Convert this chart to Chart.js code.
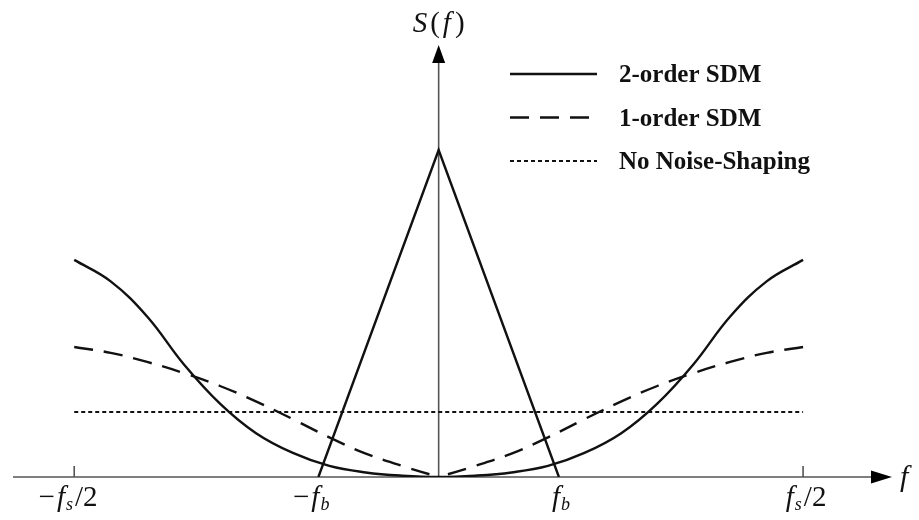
<!DOCTYPE html>
<html>
<head>
<meta charset="utf-8">
<title>S(f)</title>
<script src="https://cdn.jsdelivr.net/npm/chart.js@4.4.1/dist/chart.umd.min.js"></script>
<style>
  html, body { margin: 0; padding: 0; background: #fff; }
  canvas { display: block; }
</style>
</head>
<body>
<canvas id="noise-spectrum" width="919" height="520"></canvas>
<script>
// frequency axis in units of fs, spectrum in units of the flat quantisation noise level
const freqs = [-0.5, -0.45, -0.4, -0.35, -0.3, -0.25, -0.2, -0.15, -0.1, -0.05, 0,
               0.05, 0.1, 0.15, 0.2, 0.25, 0.3, 0.35, 0.4, 0.45, 0.5];
const secondOrder = [3.34, 3.01, 2.47, 1.74, 1.13, 0.67, 0.37, 0.17, 0.07, 0.02, 0,
                     0.02, 0.07, 0.17, 0.37, 0.67, 1.13, 1.74, 2.47, 3.01, 3.34];
const firstOrder = [2.00, 1.91, 1.77, 1.60, 1.40, 1.16, 0.89, 0.61, 0.36, 0.17, 0,
                    0.17, 0.36, 0.61, 0.89, 1.16, 1.40, 1.60, 1.77, 1.91, 2.00];
const flatFreqs = [-0.5, 0.5];
const flatLevel = [1, 1];
const bandFreqs = [-0.165, 0, 0.165];
const signalLevel = [0, 5.03, 0];

const seriesNames = ['2-order SDM', '1-order SDM', 'No Noise-Shaping'];
const tickValues = [-0.5, -0.165, 0.165, 0.5];
// [sign, symbol, subscript, tail]
const tickLabels = [['−', 'f', 's', '/2'], ['−', 'f', 'b', ''], ['', 'f', 'b', ''], ['', 'f', 's', '/2']];

const SERIF = '"Liberation Serif", "Times New Roman", serif';
const INK = '#111';

const toPoints = (xs, ys) => xs.map((x, i) => ({ x, y: ys[i] }));
const mid = freqs.indexOf(0);

const lineBase = {
  borderColor: INK,
  borderWidth: 2.4,
  pointRadius: 0,
  fill: false
};

const dataSpectrum = {
  datasets: [
    { ...lineBase, label: seriesNames[0], data: toPoints(freqs, secondOrder), tension: 0.4 },
    // first-order curve has a corner at f = 0: each half runs from the band edge inwards
    { ...lineBase, label: seriesNames[1], data: toPoints(freqs.slice(0, mid + 1), firstOrder.slice(0, mid + 1)),
      tension: 0.4, borderDash: [19, 11] },
    { ...lineBase, label: seriesNames[1], data: toPoints(freqs.slice(mid), firstOrder.slice(mid)).reverse(),
      tension: 0.4, borderDash: [19, 11] },
    { ...lineBase, label: seriesNames[2], data: toPoints(flatFreqs, flatLevel), borderDash: [4, 3], borderWidth: 2.2 },
    { ...lineBase, label: '', data: toPoints(bandFreqs, signalLevel), tension: 0 }
  ]
};

// axes with arrow heads, tick marks at ±fs/2
const axisArrows = {
  id: 'axisArrows',
  beforeDatasetsDraw(chart) {
    const { ctx, chartArea: area, scales: { x, y } } = chart;
    const x0 = x.getPixelForValue(0);
    const y0 = y.getPixelForValue(0);
    ctx.save();
    ctx.strokeStyle = '#555';
    ctx.lineWidth = 1.6;
    ctx.beginPath();
    ctx.moveTo(area.left, y0);
    ctx.lineTo(area.right - 14, y0);
    ctx.moveTo(x0, y0);
    ctx.lineTo(x0, area.top + 12);
    [tickValues[0], tickValues[3]].forEach(v => {
      const px = x.getPixelForValue(v);
      ctx.moveTo(px, y0);
      ctx.lineTo(px, y0 - 11);
    });
    ctx.stroke();

    ctx.fillStyle = '#000';
    ctx.beginPath();
    ctx.moveTo(area.right, y0);
    ctx.lineTo(area.right - 21, y0 - 6.5);
    ctx.lineTo(area.right - 21, y0 + 6.5);
    ctx.closePath();
    ctx.fill();
    ctx.beginPath();
    ctx.moveTo(x0, area.top);
    ctx.lineTo(x0 - 6.5, area.top + 18);
    ctx.lineTo(x0 + 6.5, area.top + 18);
    ctx.closePath();
    ctx.fill();
    ctx.restore();
  }
};

function drawPieces(ctx, startX, baseY, pieces) {
  let cx = startX;
  pieces.forEach(p => {
    ctx.font = p.font;
    ctx.fillText(p.text, cx, baseY + (p.dy || 0));
    cx += ctx.measureText(p.text).width + (p.gap || 0);
  });
}

function piecesWidth(ctx, pieces) {
  return pieces.reduce((w, p) => {
    ctx.font = p.font;
    return w + ctx.measureText(p.text).width + (p.gap || 0);
  }, 0);
}

const axisText = {
  id: 'axisText',
  afterDraw(chart) {
    const { ctx, chartArea: area, scales: { x, y } } = chart;
    const y0 = y.getPixelForValue(0);
    const italic = `italic 29px ${SERIF}`;
    const upright = `29px ${SERIF}`;
    const sub = `italic 18px ${SERIF}`;
    ctx.save();
    ctx.fillStyle = INK;
    ctx.textAlign = 'left';
    ctx.textBaseline = 'alphabetic';

    tickValues.forEach((v, i) => {
      const [sign, sym, subscript, tail] = tickLabels[i];
      const core = [
        { text: sym, font: italic, gap: 1 },
        { text: subscript, font: sub, dy: 4, gap: 2 },
        { text: tail, font: upright }
      ];
      const coreW = piecesWidth(ctx, core);
      const start = x.getPixelForValue(v) + 3 - coreW / 2;
      drawPieces(ctx, start, y0 + 29, core);
      if (sign) {
        ctx.font = upright;
        const sw = ctx.measureText(sign).width;
        ctx.fillText(sign, start - sw - 2, y0 + 29);
      }
    });

    // f at the end of the horizontal axis
    ctx.font = `italic 30px ${SERIF}`;
    ctx.fillText('f', area.right + 8, y0 + 9);

    // S(f) above the vertical axis
    const title = [
      { text: 'S', font: `italic 29px ${SERIF}`, gap: 3 },
      { text: '(', font: `29px ${SERIF}`, gap: 3 },
      { text: 'f', font: `italic 29px ${SERIF}`, gap: 4 },
      { text: ')', font: `29px ${SERIF}` }
    ];
    const tw = piecesWidth(ctx, title);
    drawPieces(ctx, x.getPixelForValue(0) - tw / 2, area.top - 13, title);
    ctx.restore();
  }
};

// legend block in the upper right, styles taken from the datasets
const sideLegend = {
  id: 'sideLegend',
  afterDraw(chart) {
    const { ctx } = chart;
    const seen = [];
    chart.data.datasets.forEach(ds => {
      if (ds.label && !seen.find(s => s.label === ds.label)) seen.push(ds);
    });
    ctx.save();
    seen.forEach((ds, i) => {
      const rowY = 74 + i * 43.5;
      ctx.strokeStyle = ds.borderColor;
      ctx.lineWidth = ds.borderWidth;
      ctx.setLineDash(ds.borderDash || []);
      ctx.beginPath();
      ctx.moveTo(510, rowY);
      ctx.lineTo(597, rowY);
      ctx.stroke();
      ctx.setLineDash([]);
      ctx.fillStyle = INK;
      ctx.font = `bold 25px ${SERIF}`;
      ctx.textBaseline = 'middle';
      ctx.textAlign = 'left';
      ctx.fillText(ds.label, 619, rowY + 2);
    });
    ctx.restore();
  }
};

const configSpectrum = {
  type: 'line',
  data: dataSpectrum,
  options: {
    responsive: false,
    animation: false,
    layout: { padding: { left: 13, right: 27, top: 45, bottom: 43 } },
    plugins: {
      legend: { display: false },
      tooltip: { enabled: false }
    },
    scales: {
      x: { type: 'linear', min: -0.584, max: 0.622, display: false },
      y: { min: 0, max: 6.646, display: false }
    }
  },
  plugins: [axisArrows, axisText, sideLegend]
};

let chartSpectrum = new Chart(document.getElementById('noise-spectrum'), configSpectrum);
</script>
</body>
</html>
